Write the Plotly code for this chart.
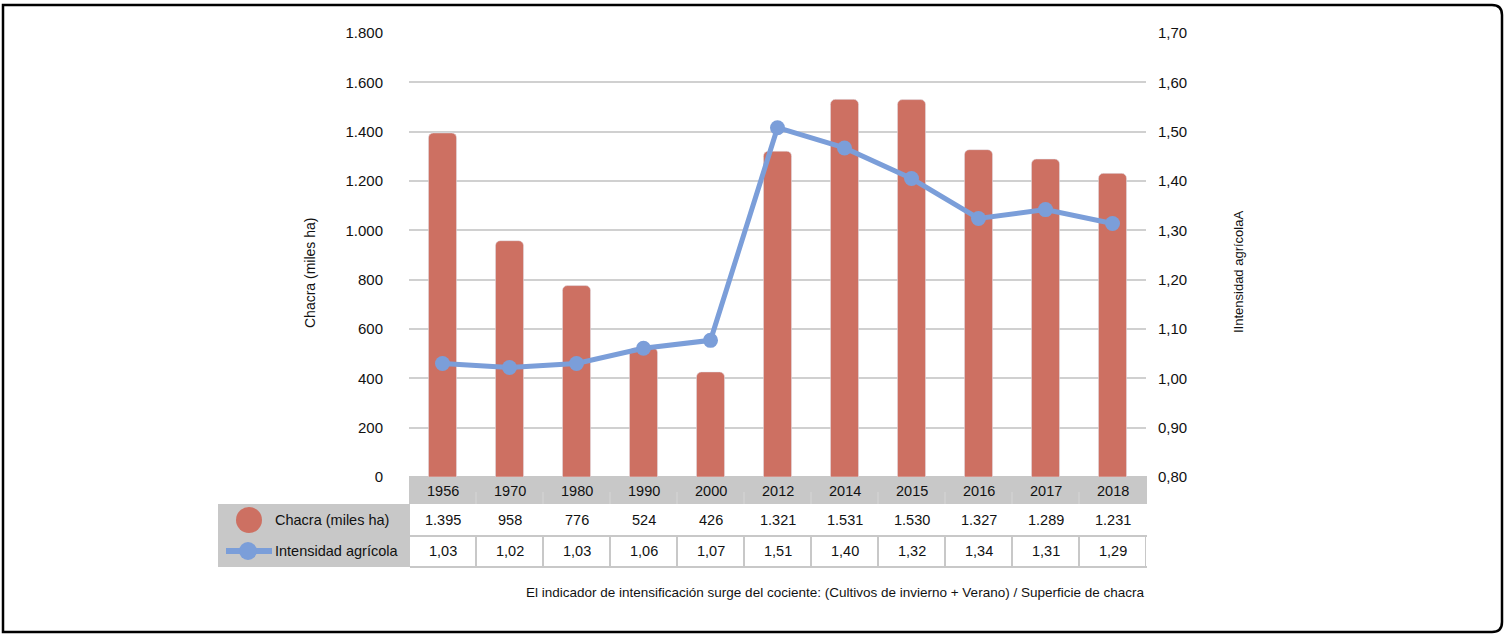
import plotly.graph_objects as go

# ---- data ----
years = ["1956", "1970", "1980", "1990", "2000", "2012", "2014", "2015", "2016", "2017", "2018"]
chacra = [1395, 958, 776, 524, 426, 1321, 1531, 1530, 1327, 1289, 1231]
intensidad_plot = [1.03, 1.022, 1.03, 1.061, 1.077, 1.508, 1.467, 1.405, 1.324, 1.342, 1.314]
intensidad_tabla = ["1,03", "1,02", "1,03", "1,06", "1,07", "1,51", "1,40", "1,32", "1,34", "1,31", "1,29"]
chacra_tabla = ["1.395", "958", "776", "524", "426", "1.321", "1.531", "1.530", "1.327", "1.289", "1.231"]
serie_bar = "Chacra (miles ha)"
serie_line = "Intensidad agrícola"
nota = "El indicador de intensificación surge del cociente: (Cultivos de invierno + Verano) / Superficie de chacra"

W, H = 1505, 634
L, R, T, B = 409, 1146, 33, 477
FONT = "Liberation Sans, Arial, sans-serif"
FS = 14.5
BAR_C = "#CD7062"
LINE_C = "#7B9ED9"
GRAY = "#C8C8C8"
TXT = "#111111"

def px(x):  # pixel x -> paper
    return (x - L) / (R - L)

def py(y):  # pixel y -> paper
    return (B - y) / (B - T)

fig = go.Figure()
fig.add_trace(go.Bar(x=years, y=chacra, name=serie_bar, marker=dict(color=BAR_C, cornerradius=5),
                     width=0.42, showlegend=False))
fig.add_trace(go.Scatter(x=years, y=intensidad_plot, name=serie_line, yaxis="y2", mode="lines+markers",
                         line=dict(color=LINE_C, width=5), marker=dict(size=15, color=LINE_C),
                         showlegend=False, cliponaxis=False))

shapes = []
annots = []

# header row (years)
shapes.append(dict(type="rect", xref="paper", yref="paper", x0=0, x1=px(1147), y0=py(476), y1=py(504),
                   fillcolor=GRAY, line=dict(width=0), layer="below"))
# legend column
shapes.append(dict(type="rect", xref="paper", yref="paper", x0=px(218), x1=px(410), y0=py(504), y1=py(567),
                   fillcolor=GRAY, line=dict(width=0), layer="below"))
# row 3 cell borders
shapes.append(dict(type="line", xref="paper", yref="paper", x0=px(410), x1=px(1147), y0=py(536), y1=py(536),
                   line=dict(color=GRAY, width=2)))
shapes.append(dict(type="line", xref="paper", yref="paper", x0=px(410), x1=px(1147), y0=py(567), y1=py(567),
                   line=dict(color=GRAY, width=2)))
for i in range(len(years) + 1):
    shapes.append(dict(type="line", xref="x", yref="paper", x0=i - 0.5, x1=i - 0.5, y0=py(536), y1=py(567),
                       line=dict(color=GRAY, width=2)))
# faint separators in header
for i in range(1, len(years)):
    shapes.append(dict(type="line", xref="x", yref="paper", x0=i - 0.5, x1=i - 0.5, y0=py(492), y1=py(504),
                       line=dict(color="#d6d6d6", width=1)))

for i, yr in enumerate(years):
    annots.append(dict(x=i, xref="x", y=py(491), yref="paper", text=yr, showarrow=False,
                       font=dict(size=FS, color=TXT, family=FONT), xanchor="center", yanchor="middle"))
    annots.append(dict(x=i, xref="x", y=py(520), yref="paper", text=chacra_tabla[i], showarrow=False,
                       font=dict(size=FS, color=TXT, family=FONT), xanchor="center", yanchor="middle"))
    annots.append(dict(x=i, xref="x", y=py(551), yref="paper", text=intensidad_tabla[i], showarrow=False,
                       font=dict(size=FS, color=TXT, family=FONT), xanchor="center", yanchor="middle"))

# legend symbols
shapes.append(dict(type="circle", xref="paper", yref="paper", xsizemode="pixel", ysizemode="pixel",
                   xanchor=px(249), yanchor=py(520), x0=-13, x1=13, y0=-13, y1=13,
                   fillcolor=BAR_C, line=dict(width=0)))
shapes.append(dict(type="line", xref="paper", yref="paper", x0=px(226), x1=px(272), y0=py(551), y1=py(551),
                   line=dict(color=LINE_C, width=6)))
shapes.append(dict(type="circle", xref="paper", yref="paper", xsizemode="pixel", ysizemode="pixel",
                   xanchor=px(248), yanchor=py(551), x0=-9, x1=9, y0=-9, y1=9,
                   fillcolor=LINE_C, line=dict(width=0)))
annots.append(dict(x=px(273), xref="paper", y=py(520), yref="paper", text=serie_bar, showarrow=False,
                   font=dict(size=FS, color=TXT, family=FONT), xanchor="left", yanchor="middle"))
annots.append(dict(x=px(273), xref="paper", y=py(551), yref="paper", text=serie_line, showarrow=False,
                   font=dict(size=FS, color=TXT, family=FONT), xanchor="left", yanchor="middle"))

# axis titles
annots.append(dict(x=px(310), xref="paper", y=py(273), yref="paper", text="Chacra (miles ha)", showarrow=False,
                   textangle=-90, font=dict(size=14, color=TXT, family=FONT), xanchor="center", yanchor="middle"))
annots.append(dict(x=px(1238), xref="paper", y=py(272), yref="paper", text="IIntensidad agrícolaA", showarrow=False,
                   textangle=-90, font=dict(size=13, color=TXT, family=FONT), xanchor="center", yanchor="middle"))
# footnote
annots.append(dict(x=px(1146), xref="paper", y=py(592), yref="paper", text=nota, showarrow=False,
                   font=dict(size=13.5, color=TXT, family=FONT), xanchor="right", yanchor="middle"))

# outer border with rounded right corners
x0, x1, y0, y1 = px(3), px(1502), py(5), py(632)
rx = 10 / (R - L)
ry = 10 / (B - T)
path = (f"M {x0},{y0} L {x1 - rx},{y0} Q {x1},{y0} {x1},{y0 - ry} "
        f"L {x1},{y1 + ry} Q {x1},{y1} {x1 - rx},{y1} L {x0},{y1} Z")
shapes.append(dict(type="path", xref="paper", yref="paper", path=path, line=dict(color="black", width=2.5)))

fig.update_layout(
    width=W, height=H,
    margin=dict(l=L, r=W - R, t=T, b=H - B),
    plot_bgcolor="white", paper_bgcolor="white",
    separators=",.",
    font=dict(family=FONT, size=FS, color=TXT),
    xaxis=dict(type="category", range=[-0.5, 10.5], showticklabels=False, showgrid=False,
               zeroline=False, showline=False, ticks=""),
    yaxis=dict(range=[0, 1800], dtick=200, tickformat=",d", showgrid=True, gridcolor="#D0D0D0", gridwidth=1.5,
               zeroline=False, showline=False, ticks="", ticklabelstandoff=25,
               tickfont=dict(size=15, color=TXT, family=FONT)),
    yaxis2=dict(range=[0.8, 1.7], dtick=0.1, tickformat=".2f", overlaying="y", side="right", showgrid=False,
                zeroline=False, showline=False, ticks="", ticklabelstandoff=11,
                tickfont=dict(size=15, color=TXT, family=FONT)),
    shapes=shapes, annotations=annots, showlegend=False,
)

fig.write_html("out.html", config={"displayModeBar": False},
               post_script="document.body.style.margin='0';document.body.style.overflow='hidden';")
